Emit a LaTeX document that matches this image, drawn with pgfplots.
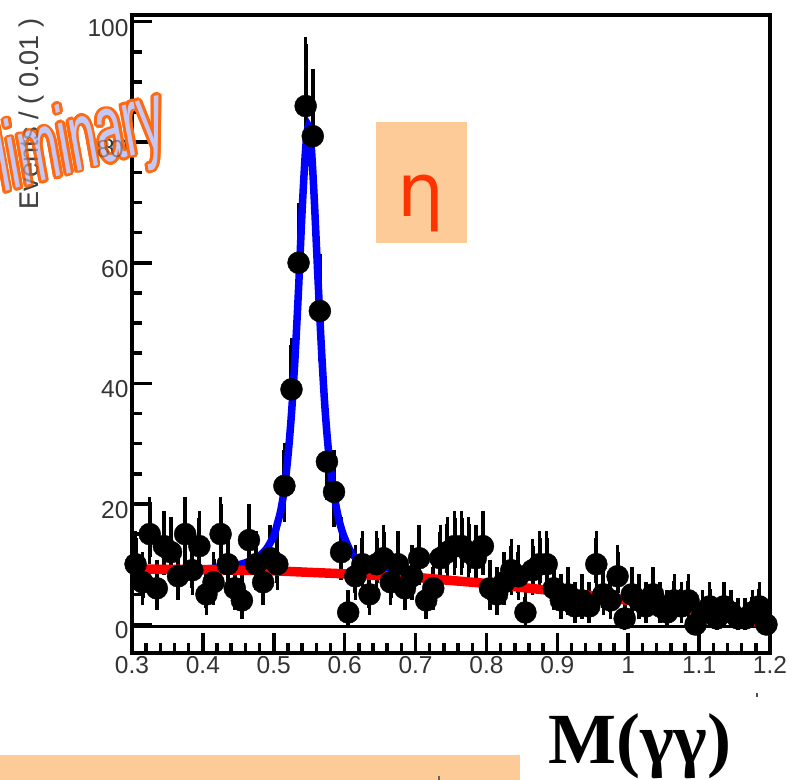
\documentclass[border=0pt]{standalone}
\usepackage{pgfplots}
\pgfplotsset{compat=1.18}
\usepackage{pgfplotstable}
\usepackage{fontspec}
\setmainfont{Liberation Sans}
\newfontfamily\timesf{Liberation Serif}
\newfontfamily\dejavu{DejaVu Sans}
\definecolor{peach}{HTML}{FDCB98}
\definecolor{etared}{HTML}{FF3300}
\definecolor{wmorange}{HTML}{FF6A10}
\definecolor{wmfill}{HTML}{C4C8F6}

\pgfplotstableread{
x y ep em
0.305 10 4.3 3.1
0.315 7 3.8 2.6
0.325 15 5.0 3.8
0.335 6 3.6 2.4
0.345 13 4.7 3.6
0.355 12 4.6 3.4
0.365 8 4.0 2.8
0.375 15 5.0 3.8
0.385 9 4.1 2.9
0.395 13 4.7 3.6
0.405 5 3.4 2.2
0.415 7 3.8 2.6
0.425 15 5.0 3.8
0.435 10 4.3 3.1
0.445 6 3.6 2.4
0.455 4 3.2 1.9
0.465 14 4.8 3.7
0.475 10 4.3 3.1
0.485 7 3.8 2.6
0.495 11 4.4 3.3
0.505 10 4.3 3.1
0.515 23 5.9 4.8
0.525 39 7.3 6.2
0.535 60 8.8 7.7
0.545 86 10.3 9.3
0.555 81 10.0 9.0
0.565 52 8.3 7.2
0.575 27 6.3 5.2
0.585 22 5.8 4.6
0.595 12 4.6 3.4
0.605 2 2.6 1.3
0.615 8 4.0 2.8
0.625 10 4.3 3.1
0.635 5 3.4 2.2
0.645 10 4.3 3.1
0.655 11 4.4 3.3
0.665 7 3.8 2.6
0.675 10 4.3 3.1
0.685 6 3.6 2.4
0.695 8 4.0 2.8
0.705 11 4.4 3.3
0.715 4 3.2 1.9
0.725 6 3.6 2.4
0.735 11 4.4 3.3
0.745 12 4.6 3.4
0.755 13 4.7 3.6
0.765 13 4.7 3.6
0.775 12 4.6 3.4
0.785 11 4.4 3.3
0.795 13 4.7 3.6
0.805 6 3.6 2.4
0.815 5 3.4 2.2
0.825 7 3.8 2.6
0.835 9 4.1 2.9
0.845 8 4.0 2.8
0.855 2 2.6 1.3
0.865 9 4.1 2.9
0.875 10 4.3 3.1
0.885 10 4.3 3.1
0.895 6 3.6 2.4
0.905 4 3.2 1.9
0.915 5 3.4 2.2
0.925 3 2.9 1.6
0.935 4 3.2 1.9
0.945 3 2.9 1.6
0.955 10 4.3 3.1
0.965 5 3.4 2.2
0.975 4 3.2 1.9
0.985 8 4.0 2.8
0.995 1 2.3 0.8
1.005 5 3.4 2.2
1.015 4 3.2 1.9
1.025 3 2.9 1.6
1.035 5 3.4 2.2
1.045 3 2.9 1.6
1.055 2 2.6 1.3
1.065 4 3.2 1.9
1.075 3 2.9 1.6
1.085 4 3.2 1.9
1.095 0 1.15 0
1.105 2 2.6 1.3
1.115 3 2.9 1.6
1.125 1 2.3 0.8
1.135 3 2.9 1.6
1.145 2 2.6 1.3
1.155 1 2.3 0.8
1.165 1 2.3 0.8
1.175 2 2.6 1.3
1.185 3 2.9 1.6
1.195 0 1.15 0
}\data

\begin{document}
\begin{tikzpicture}
\path[use as bounding box] (0,0) rectangle (792bp,-780bp);
\begin{axis}[
  at={(132bp,-653bp)}, anchor=south west,
  scale only axis, width=638bp, height=638bp,
  xmin=0.3, xmax=1.2, ymin=-4.73, ymax=101.1,
  axis line style={line width=4bp, black},
  xtick={0.3,0.4,0.5,0.6,0.7,0.8,0.9,1.0,1.1,1.2},
  xticklabels={0.3,0.4,0.5,0.6,0.7,0.8,0.9,1,1.1,1.2},
  ytick={0,20,40,60,80,100},
  yticklabels={0,20,40,60,80,100},
  minor x tick num=4, minor y tick num=3,
  xtick pos=lower, ytick pos=left, tick align=inside,
  major tick length=20bp, minor tick length=10bp,
  every tick/.style={line width=3.5bp, black},
  tick label style={font=\fontsize{24.5bp}{28bp}\selectfont, text=black!80},
  yticklabel style={yshift=-6bp},
  clip=false,
]
\addplot[black, line width=3.5bp, forget plot] coordinates {(0.3,-0.3) (1.2,-0.3)};
\addplot[black, only marks, mark=*, mark size=11bp, mark options={fill=black, draw=black},
  error bars/.cd, y dir=both, y explicit,
  error bar style={line width=4bp, black},
  error mark options={line width=3.5bp, mark size=7bp, black}]
  table[x=x, y=y, y error plus=ep, y error minus=em] {\data};
\addplot[blue, line width=7.5bp, smooth] coordinates {
(0.300,9.25)(0.350,9.2)(0.400,9.2)(0.430,9.5)(0.450,9.9)(0.470,10.65)(0.480,11.4)
(0.490,12.6)(0.500,14.7)(0.505,16.7)(0.510,19.0)(0.515,22.6)(0.520,27.9)(0.525,35.0)
(0.530,44.3)(0.535,55.8)(0.540,68.7)(0.545,79.0)(0.549,82.7)(0.553,79.0)(0.557,70.8)
(0.562,58.2)(0.567,46.3)(0.572,36.3)(0.577,29.0)(0.582,24.0)(0.587,20.2)(0.592,17.3)
(0.599,14.6)(0.609,12.0)(0.619,10.7)(0.629,9.85)(0.649,9.0)(0.669,8.42)(0.699,7.95)
(0.75,7.35)(0.80,6.8)(0.85,6.15)(0.90,5.5)(0.95,4.75)(1.00,4.0)(1.05,3.1)(1.10,2.2)
(1.15,1.1)(1.20,0.0)};
\addplot[red, line width=9.5bp, smooth] coordinates {
(0.30,9.2)(0.35,9.15)(0.40,9.1)(0.45,9.0)(0.50,8.9)(0.55,8.65)(0.60,8.4)(0.65,8.1)
(0.70,7.8)(0.75,7.3)(0.80,6.8)(0.85,6.15)(0.90,5.5)(0.95,4.75)(1.00,4.0)(1.05,3.1)
(1.10,2.2)(1.15,1.1)(1.20,0.0)};
\end{axis}
% y label
\node[rotate=90, text=black!75, font=\fontsize{27bp}{30bp}\selectfont] at (32bp,-114bp) {Events / ( 0.01 )};
% watermark
\begin{scope}[shift={(5bp,-192bp)}, rotate=16, xscale=0.52]
\foreach \a in {0,22.5,...,337.5}{
  \node[transform shape, anchor=base west, inner sep=0, text=wmorange,
    font=\itshape\fontsize{96bp}{100bp}\selectfont] at ({cos(\a)*5.5bp},{sin(\a)*2.6bp}) {liminary};
}
\node[transform shape, anchor=base west, inner sep=0, text=wmfill,
  font=\itshape\fontsize{96bp}{100bp}\selectfont] at (0,0) {liminary};
\end{scope}
% texts seen through the watermark
\node[anchor=east, inner sep=0, text=black!80, text opacity=0.45, font=\fontsize{24.5bp}{28bp}\selectfont] at (124bp,-149bp) {80};
\node[rotate=90, text=black!75, text opacity=0.4, font=\fontsize{27bp}{30bp}\selectfont] at (32bp,-114bp) {Events / ( 0.01 )};
% eta box
\fill[peach] (376bp,-122bp) rectangle (467bp,-243bp);
\node[anchor=base, inner sep=0, text=etared, font=\dejavu\fontsize{74bp}{80bp}\selectfont] at (421bp,-216bp) {η};
% bottom box
\fill[peach] (0,-755bp) rectangle (520bp,-780bp);
\fill[black!60] (438bp,-776bp) rectangle (440bp,-780bp);
\fill[black!70] (756bp,-693bp) rectangle (758bp,-697bp);
% M(gamma gamma)
\node[anchor=base west, inner sep=0, font=\timesf\bfseries\fontsize{72bp}{80bp}\selectfont] at (548bp,-763bp) {M(γγ)};
\end{tikzpicture}
\end{document}
